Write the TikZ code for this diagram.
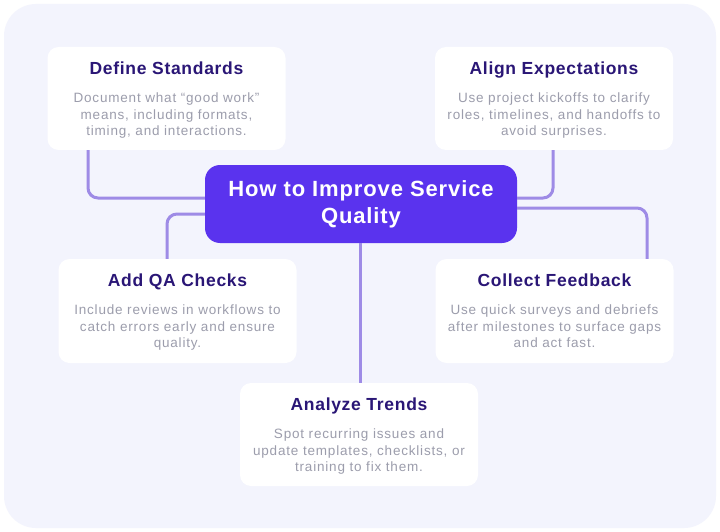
\documentclass[tikz,border=0pt]{standalone}
\usepackage{fontspec}
\setmainfont{Liberation Sans}
\newfontfamily\ttlfont[LetterSpace=4]{Liberation Sans}
\newfontfamily\hubfont[LetterSpace=4]{Liberation Sans}
\newfontfamily\dscfont[LetterSpace=6]{Liberation Sans}
\definecolor{panel}{HTML}{F3F4FD}
\definecolor{hub}{HTML}{5A33EE}
\definecolor{wire}{HTML}{9E8BE6}
\definecolor{ttl}{HTML}{2A1676}
\definecolor{dsc}{HTML}{9C9DAC}
\tikzset{
  card/.style={draw=none, fill=white, rounded corners=11pt, minimum width=238pt, minimum height=103pt, inner sep=0pt},
  hubbox/.style={fill=hub, rounded corners=15pt, minimum width=312pt, minimum height=78pt, inner sep=0pt},
  hubtext/.style={text=white, font=\hubfont\fontsize{22}{27}\selectfont\bfseries, align=center, inner sep=0pt, anchor=base},
  ttltext/.style={text=ttl, font=\ttlfont\fontsize{17.5}{20}\selectfont\bfseries, inner sep=0pt, anchor=base},
  dsctext/.style={text=dsc, font=\dscfont\fontsize{13.5}{16.5}\selectfont, align=center, inner sep=0pt, anchor=base},
  conn/.style={draw=wire, line width=3pt, rounded corners=10pt}
}
\begin{document}
\begin{tikzpicture}[x=1pt,y=-1pt]
\useasboundingbox (0,0) rectangle (720,532);
\fill[white] (0,0) rectangle (720,532);
\fill[panel, rounded corners=32pt] (4,4) rectangle (716,528);

% cards
\node[card] (ds) at (166.5,98.5) {};
\node[card] (al) at (554,98.5) {};
\node[card, minimum height=104pt] (aq) at (177.5,311) {};
\node[card, minimum height=104pt] (cf) at (554.5,311) {};
\node[card] (at) at (359,434.5) {};
\node[hubbox] (ctr) at (361,204) {};
\node[hubtext] (ctrt) at ([yshift=-59pt]ctr.north) {How to Improve Service\\Quality};

% titles and descriptions (description anchor = baseline of last line)
\node[ttltext] (dst) at ([yshift=-28pt]ds.north) {Define Standards};
\node[dsctext] (dsd) at ([yshift=-89pt]ds.north) {Document what “good work”\\means, including formats,\\timing, and interactions.};
\node[ttltext] (alt) at ([yshift=-28pt]al.north) {Align Expectations};
\node[dsctext] (ald) at ([yshift=-89pt]al.north) {Use project kickoffs to clarify\\roles, timelines, and handoffs to\\avoid surprises.};
\node[ttltext] (aqt) at ([yshift=-28pt]aq.north) {Add QA Checks};
\node[dsctext] (aqd) at ([yshift=-89pt]aq.north) {Include reviews in workflows to\\catch errors early and ensure\\quality.};
\node[ttltext] (cft) at ([yshift=-28pt]cf.north) {Collect Feedback};
\node[dsctext] (cfd) at ([yshift=-89pt]cf.north) {Use quick surveys and debriefs\\after milestones to surface gaps\\and act fast.};
\node[ttltext] (att) at ([yshift=-28pt]at.north) {Analyze Trends};
\node[dsctext] (atd) at ([yshift=-89pt]at.north) {Spot recurring issues and\\update templates, checklists, or\\training to fix them.};

% connectors
\draw[conn] ([xshift=-78.5pt]ds.south) |- ([yshift=6pt]ctr.west);
\draw[conn] ([yshift=-10pt]ctr.west) -| ([xshift=-10.5pt]aq.north);
\draw[conn] ([xshift=-1pt]al.south) |- ([yshift=6pt]ctr.east);
\draw[conn] ([yshift=-4pt]ctr.east) -| ([xshift=92.5pt]cf.north);
\draw[conn] ([xshift=-1pt]ctr.south) -- ([xshift=-1pt]ctr.south |- at.north);
\end{tikzpicture}
\end{document}
